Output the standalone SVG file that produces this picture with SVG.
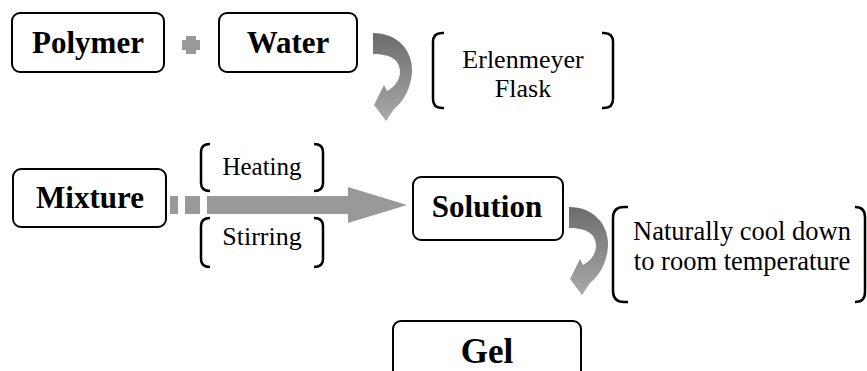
<svg xmlns="http://www.w3.org/2000/svg" width="867" height="371" viewBox="0 0 867 371">
<style>
.box{fill:#fff;stroke:#000;stroke-width:2}
.bt{font-family:'Liberation Serif','Times New Roman',Times,'DejaVu Serif',serif;font-weight:bold;font-size:31px;text-anchor:middle;fill:#000}
.rt{font-family:'Liberation Serif','Times New Roman',Times,'DejaVu Serif',serif;font-size:26px;text-anchor:middle;fill:#000}
.br{fill:none;stroke:#000;stroke-width:2.5}
.gray{fill:#999}
</style>
<defs>
<linearGradient id="cg" x1="0" y1="0" x2="0" y2="1">
<stop offset="0" stop-color="#6c6c6c"/>
<stop offset="1" stop-color="#a9a9a9"/>
</linearGradient>
<path id="curl" fill="url(#cg)" d="M0,0 C24,0 40,17 39,39 C38,56 30,69 21,76 L13,88 L1,72 L11,52 L14,58 C23,53 27,46 27,39 C27,27 18,21 0,21 Z"/>
</defs>
<g id="connectors">
<path class="gray" d="M182,40 H186 V36 H196 V40 H200 V50 H196 V54 H186 V50 H182 Z"/>
<use href="#curl" x="373" y="33"/>
<use href="#curl" x="569" y="207"/>
<rect class="gray" x="170" y="196" width="8" height="18"/>
<rect class="gray" x="185" y="196" width="15" height="18"/>
<polygon class="gray" points="207,196 348,196 348,187 407,205 348,223 348,214 207,214"/>
</g>
<g id="polymer"><rect class="box" x="12" y="13" width="152" height="59" rx="8"/><text class="bt" x="88" y="53" font-family="Liberation Serif, serif">Polymer</text></g>
<g id="water"><rect class="box" x="219" y="13" width="138" height="59" rx="8"/><text class="bt" x="288" y="53" font-family="Liberation Serif, serif">Water</text></g>
<g id="flask">
<path class="br" d="M444,33 H442 Q433,33 433,42 V99 Q433,108 442,108 H444"/>
<path class="br" d="M602,33 H604 Q613,33 613,42 V99 Q613,108 604,108 H602"/>
<text class="rt" x="523" y="68">Erlenmeyer</text>
<text class="rt" x="523" y="97">Flask</text>
</g>
<g id="mixture"><rect class="box" x="13" y="169" width="153" height="58" rx="8"/><text class="bt" x="90" y="208">Mixture</text></g>
<g id="heating">
<path class="br" d="M210,144 Q201,144 201,152 V183 Q201,191 210,191"/>
<path class="br" d="M314,144 Q323,144 323,152 V183 Q323,191 314,191"/>
<text class="rt" x="262" y="175" style="font-size:25px">Heating</text>
</g>
<g id="stirring">
<path class="br" d="M210,218 Q201,218 201,226 V259 Q201,267 210,267"/>
<path class="br" d="M314,218 Q323,218 323,226 V259 Q323,267 314,267"/>
<text class="rt" x="262" y="245">Stirring</text>
</g>
<g id="solution"><rect class="box" x="413" y="177" width="150" height="63" rx="8"/><text class="bt" x="487" y="217">Solution</text></g>
<g id="cool">
<path class="br" d="M628,207 H624 Q613,207 613,218 V291 Q613,302 624,302 H628"/>
<path class="br" d="M855,207 Q865,207 865,217 V292 Q865,302 855,302"/>
<text class="rt" x="742" y="240" style="font-size:26.5px">Naturally cool down</text>
<text class="rt" x="742" y="270" style="font-size:26.5px">to room temperature</text>
</g>
<g id="gel"><rect class="box" x="393" y="321" width="188" height="62" rx="8"/><text class="bt" x="487" y="363" style="font-size:35px">Gel</text></g>
</svg>
